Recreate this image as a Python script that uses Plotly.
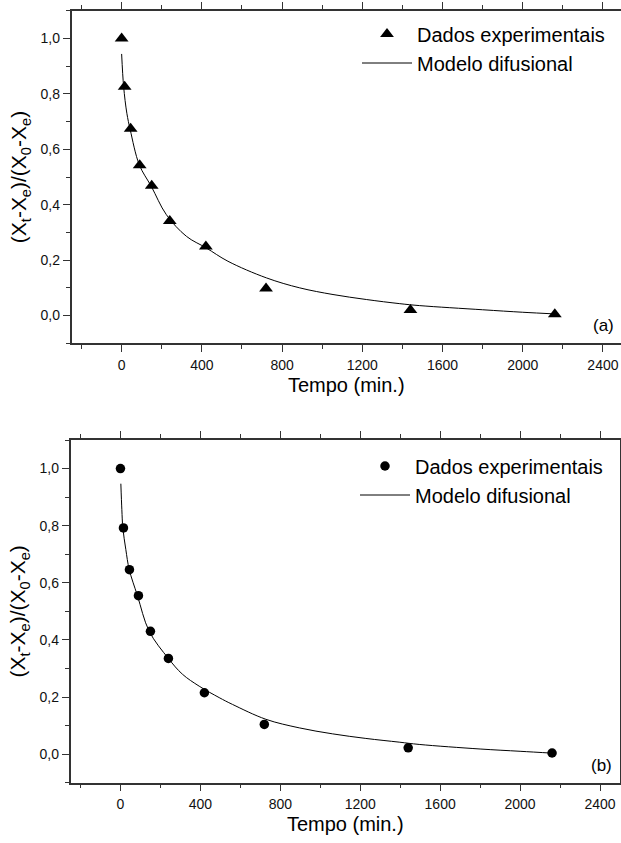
import plotly.graph_objects as go

# ---- data (a) ----
t_exp = [0, 15, 45, 90, 150, 240, 420, 720, 1440, 2160]
y_exp_a = [1.0, 0.826, 0.674, 0.542, 0.468, 0.341, 0.249, 0.098, 0.020, 0.005]
t_mod_a = [0, 10, 26, 43, 88, 148, 223, 323, 422, 530, 722, 888, 1054, 1220, 1387, 1486, 1800, 2000, 2160]
y_mod_a = [0.944, 0.826, 0.730, 0.670, 0.544, 0.466, 0.364, 0.286, 0.244, 0.196, 0.136, 0.100,
           0.076, 0.058, 0.043, 0.036, 0.021, 0.012, 0.006]

# ---- data (b) ----
y_exp_b = [1.0, 0.792, 0.646, 0.555, 0.430, 0.335, 0.215, 0.104, 0.022, 0.004]
t_mod_b = [2, 7, 12, 27, 44, 85, 144, 240, 310, 394, 494, 561, 728, 895, 1062, 1228, 1395, 1495, 1800, 2000, 2160]
y_mod_b = [0.947, 0.856, 0.792, 0.716, 0.646, 0.555, 0.430, 0.335, 0.280, 0.238, 0.198, 0.174,
           0.122, 0.092, 0.071, 0.055, 0.042, 0.034, 0.018, 0.010, 0.0035]

x_ticks = [0, 400, 800, 1200, 1600, 2000, 2400]
y_ticks = [0.0, 0.2, 0.4, 0.6, 0.8, 1.0]
name_exp = "Dados experimentais"
name_mod = "Modelo difusional"
x_title = "Tempo (min.)"
y_title = "(X<sub>t</sub>-X<sub>e</sub>)/(X<sub>0</sub>-X<sub>e</sub>)"

FONT = "Liberation Sans, Arial, sans-serif"
W, H = 621, 843
AX = "#333333"

fig = go.Figure()
fig.add_trace(go.Scatter(x=t_exp, y=y_exp_a, mode="markers", name=name_exp,
                         marker=dict(symbol="triangle-up", size=12, color="black"),
                         xaxis="x", yaxis="y", legend="legend"))
fig.add_trace(go.Scatter(x=t_mod_a, y=y_mod_a, mode="lines", name=name_mod,
                         line=dict(color="black", width=1, shape="spline"),
                         xaxis="x", yaxis="y", legend="legend"))
fig.add_trace(go.Scatter(x=t_exp, y=y_exp_b, mode="markers", name=name_exp,
                         marker=dict(symbol="circle", size=9.5, color="black"),
                         xaxis="x2", yaxis="y2", legend="legend2"))
fig.add_trace(go.Scatter(x=t_mod_b, y=y_mod_b, mode="lines", name=name_mod,
                         line=dict(color="black", width=1, shape="spline"),
                         xaxis="x2", yaxis="y2", legend="legend2"))

def xax(domain, rng, anchor):
    return dict(domain=domain, range=rng, anchor=anchor, tickvals=x_ticks,
                ticks="outside", ticklen=7, tickwidth=1.3, tickcolor=AX,
                showline=True, linecolor=AX, linewidth=1.5, mirror="allticks",
                showgrid=False, zeroline=False, automargin=False,
                ticklabelstandoff=1,
                tickfont=dict(family=FONT, size=14, color="#111"),
                minor=dict(dtick=200, tick0=0, ticks="outside", ticklen=4, tickwidth=1.2, tickcolor=AX),
                title=dict(text=x_title, font=dict(family=FONT, size=20, color="#000"), standoff=6))

def yax(domain, anchor, mirror):
    return dict(domain=domain, range=[-0.1, 1.1], anchor=anchor, tickvals=y_ticks,
                tickformat=".1f",
                ticks="outside", ticklen=7, tickwidth=1.3, tickcolor=AX,
                showline=True, linecolor=AX, linewidth=1.5, mirror=mirror,
                showgrid=False, zeroline=False, automargin=False,
                tickfont=dict(family=FONT, size=14, color="#111"),
                minor=dict(dtick=0.1, tick0=0, ticks="outside", ticklen=4, tickwidth=1.2, tickcolor=AX),
                title=dict(text=y_title, font=dict(family=FONT, size=21, color="#000"), standoff=8))

fig.update_layout(
    width=W, height=H, margin=dict(l=0, r=0, t=0, b=0),
    paper_bgcolor="white", plot_bgcolor="white",
    separators=",.",
    xaxis=xax([71.5 / W, 1.0], [-250, 2490], "y"),
    yaxis=yax([1 - 343.3 / H, 1 - 10.7 / H], "x", False),
    xaxis2=xax([70.5 / W, 620 / W], [-250, 2500], "y2"),
    yaxis2=yax([1 - 782.7 / H, 1 - 440 / H], "x2", "allticks"),
    legend=dict(x=357 / W, y=1 - 14.5 / H, xanchor="left", yanchor="top",
                itemwidth=50, tracegroupgap=0, bgcolor="rgba(0,0,0,0)",
                font=dict(family=FONT, size=20, color="#000")),
    legend2=dict(x=355 / W, y=1 - 446.5 / H, xanchor="left", yanchor="top",
                 itemwidth=50, tracegroupgap=0, bgcolor="rgba(0,0,0,0)",
                 font=dict(family=FONT, size=20, color="#000")),
    annotations=[
        dict(text="(a)", xref="paper", yref="paper", x=603 / W, y=1 - 325.7 / H,
             xanchor="center", yanchor="middle", showarrow=False,
             font=dict(family=FONT, size=17, color="#000")),
        dict(text="(b)", xref="paper", yref="paper", x=601.7 / W, y=1 - 765 / H,
             xanchor="center", yanchor="middle", showarrow=False,
             font=dict(family=FONT, size=17, color="#000")),
    ],
)

fig.write_html("out.html")
